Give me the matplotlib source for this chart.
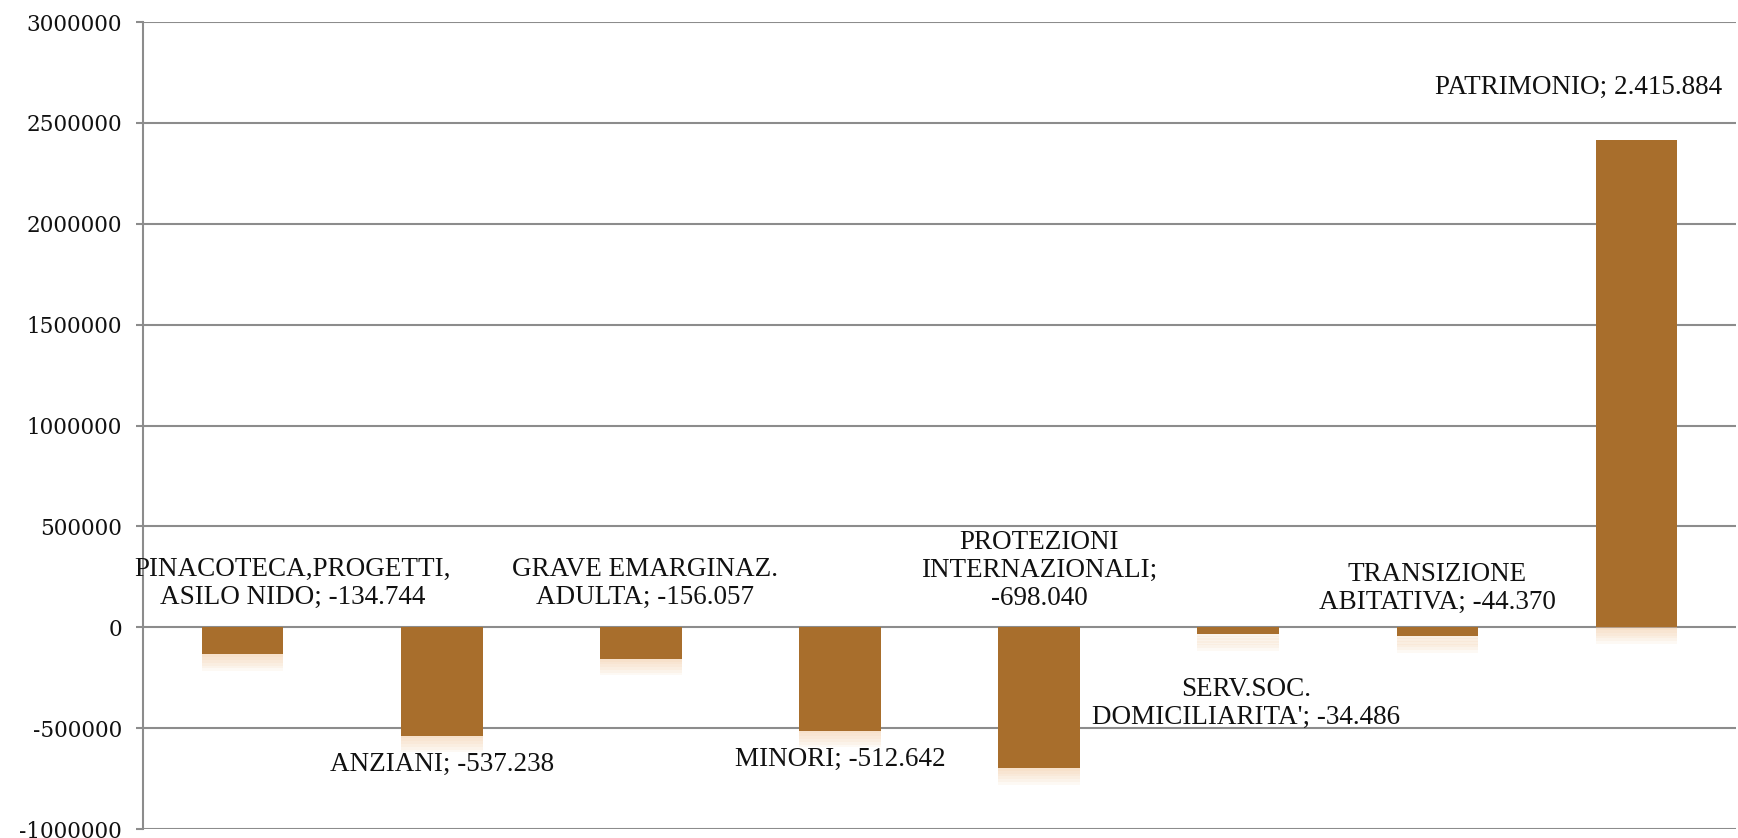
"""Bar chart: variazioni per centro di costo."""

import matplotlib
matplotlib.use("Agg")
import matplotlib.pyplot as plt
import matplotlib.patheffects as pe
from matplotlib.ticker import MultipleLocator, FuncFormatter


categories = [
    "PINACOTECA,PROGETTI,\nASILO NIDO",
    "ANZIANI",
    "GRAVE EMARGINAZ.\nADULTA",
    "MINORI",
    "PROTEZIONI\nINTERNAZIONALI;",
    "SERV.SOC.\nDOMICILIARITA'",
    "TRANSIZIONE\nABITATIVA",
    "PATRIMONIO",
]
values = [-134744, -537238, -156057, -512642, -698040, -34486, -44370, 2415884]
value_texts = ["-134.744", "-537.238", "-156.057", "-512.642", "-698.040",
               "-34.486", "-44.370", "2.415.884"]

# label layout: (x offset in categories, label centre y in data units)
label_pos = [
    (0.25, 218000),
    (0.0, -679000),
    (0.02, 218000),
    (0.0, -654000),
    (0.0, 282000),
    (0.04, -377000),
    (0.0, 193000),
    (-0.29, 2676000),
]

BAR = "#A86E2C"
GRID = "#8C8C8C"
INK = "#111111"


def main() -> None:
    fig = plt.figure(figsize=(17.38, 8.38), dpi=100)
    fig.patch.set_facecolor("white")
    ax = fig.add_axes([0.0823, 0.0107, 0.9166, 0.963])

    x = list(range(len(values)))
    bars = ax.bar(x, values, width=0.41, color=BAR, zorder=3)
    # soft glow under each bar
    effects = [pe.SimplePatchShadow(offset=(0, -k), shadow_rgbFace="#F0BE8E", alpha=0.09)
               for k in range(12, 0, -2)]
    for b in bars:
        b.set_path_effects(effects + [pe.Normal()])

    ax.set_xlim(-0.5, len(values) - 0.5)
    ax.set_ylim(-1000000, 3000000)
    ax.yaxis.set_major_locator(MultipleLocator(500000))
    ax.yaxis.set_major_formatter(FuncFormatter(lambda v, _: f"{int(v)}"))
    ax.grid(axis="y", color=GRID, linewidth=1.5, zorder=0)
    ax.set_xticks([])
    for side in ["top", "right", "bottom"]:
        ax.spines[side].set_visible(False)
    ax.spines["left"].set_color(GRID)
    ax.spines["left"].set_linewidth(1.5)
    ax.tick_params(axis="y", length=5, width=1.5, color=GRID, pad=10,
                   labelsize=15.5, labelcolor=INK)
    for lab in ax.get_yticklabels():
        lab.set_fontfamily("DejaVu Serif")

    for i, (cat, txt) in enumerate(zip(categories, value_texts)):
        dx, ly = label_pos[i]
        if cat.endswith(";"):
            text = f"{cat}\n{txt}"
        else:
            text = f"{cat}; {txt}"
        ax.text(i + dx, ly, text, ha="center", va="center", fontsize=19.5,
                family="Liberation Serif", color=INK, linespacing=1.15,
                multialignment="center", zorder=5)

    fig.savefig("out.png", dpi=100)
    plt.close(fig)


if __name__ == "__main__":
    main()
